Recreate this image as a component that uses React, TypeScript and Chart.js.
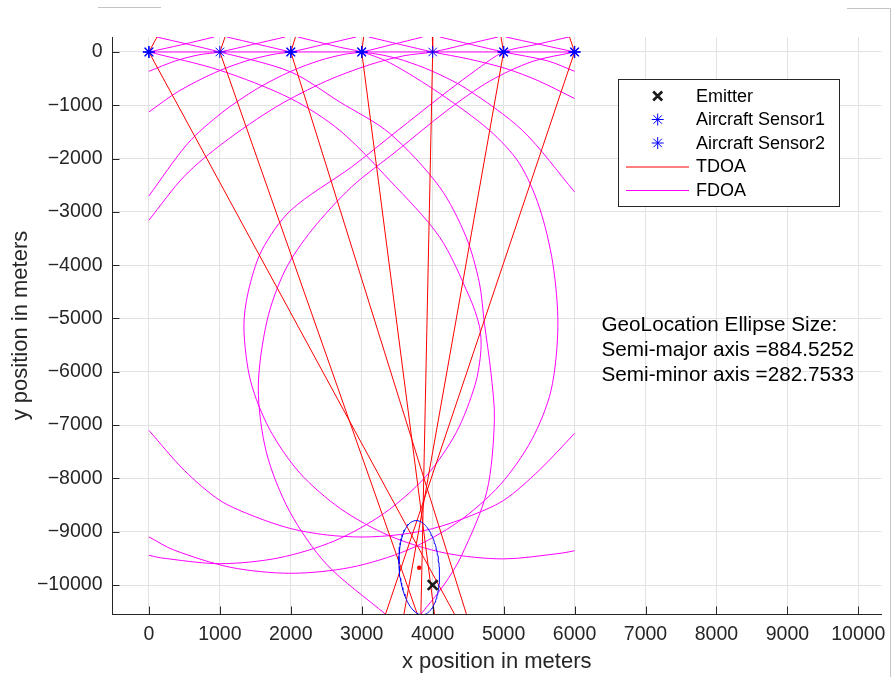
import React, { useEffect, useRef } from "react";
import { Chart, registerables } from "chart.js";

Chart.register(...registerables);

const FONT = '"Liberation Sans", Arial, Helvetica, sans-serif';
const INK = "#262626";
const RED = "#ff0000";
const MAGENTA = "#ff00ff";
const BLUE = "#0000ff";
const EMITTER_INK = "#1a1a1a";

// Axis ranges and tick values (meters)
const xRange = [-520, 10325];
const yRange = [-10544, 281];
const xTickValues = [0, 1000, 2000, 3000, 4000, 5000, 6000, 7000, 8000, 9000, 10000];
const yTickValues = [0, -1000, -2000, -3000, -4000, -5000, -6000, -7000, -8000, -9000, -10000];

// Platform and emitter positions
const sensor1X = [0, 1000, 2000, 3000, 4000, 5000, 6000];
const sensor2X = [0, 2000, 3000, 5000, 6000];
const sensorAltY = 0;
const emitterPos = [4000, -10000];
const estimatePos = [3810, -9675];

// Geolocation error ellipse
const semiMajor = 884.5252;
const semiMinor = 282.7533;
const ellipseTiltDeg = 3;

// TDOA curves: upper end, apex at each sensor, lower end (x in meters)
const tdoaTopX = [115, 1074, 2066, 3027, 3996, 4963, 5929];
const tdoaBottomX = [4307, 3783, 4475, 4025, 3834, 3595, 3336];

// FDOA iso-curves, [x, y] in meters
const fdoaRow = [[0, 0], [6000, 0]];
const fdoaRise0 = [[0, 0], [460, 135], [920, 281]];
const fdoaRise1 = [[0, -362], [379, -166], [700, -55], [1000, 0], [1460, 140], [1920, 281]];
const fdoaRise2 = [
  [0, -1125], [417, -738], [924, -391], [1367, -170], [1750, -45], [2000, 0], [2460, 140], [2920, 281],
];
const fdoaRise3 = [
  [0, -2700], [548, -1717], [1030, -1138], [1527, -687], [2000, -364], [2411, -158], [2750, -45],
  [3000, 0], [3430, 140], [3860, 281],
];
const fdoaRise4 = [
  [0, -3156], [500, -2330], [1051, -1703], [1796, -1028], [2502, -545], [3119, -236], [3595, -71],
  [4000, 0], [4460, 140], [4920, 281],
];
const fdoaLoop5 = [
  [5920, 281], [5460, 140], [5000, 0], [4600, -350], [4100, -850], [3500, -1480], [2858, -2156],
  [2000, -2970], [1592, -3720], [1400, -4500], [1339, -5176], [1434, -6176], [1700, -7075],
  [2127, -7898], [2703, -8570], [3395, -9080], [4177, -9401], [5000, -9510], [5823, -9401],
  [6000, -9357],
];
const fdoaLoop6 = [
  [6000, 0], [5400, -180], [4800, -550], [4200, -1100], [3500, -1850], [2858, -2531], [2295, -3344],
  [1920, -4094], [1667, -5032], [1542, -6303], [1658, -7521], [1982, -8616], [2503, -9609],
  [3331, -10544],
];
const fdoaFall0 = [
  [0, 0], [1000, -343], [2000, -874], [2689, -1470], [3393, -2406], [4096, -3469], [4518, -4594],
  [4660, -5150], [4680, -5600], [4600, -6235], [4331, -7143], [3899, -7970], [3318, -8652],
  [2620, -9170], [1831, -9491], [1000, -9600], [169, -9491], [0, -9442],
];
const fdoaFall1 = [
  [110, 281], [1000, 0], [2000, -375], [2689, -937], [3393, -1525], [4096, -2531], [4471, -3469],
  [4659, -4337], [4730, -5100], [4820, -6000], [4870, -6900], [4763, -8249], [4407, -9449],
  [4158, -10000], [3836, -10544],
];
const fdoaFall2 = [[1100, 281], [2000, 0]];
const fdoaBigArc = [
  [2100, 281], [2689, 90], [3000, 0], [3393, -200], [4096, -774], [4799, -1468], [5221, -2087],
  [5502, -2906], [5693, -3962], [5765, -5150], [5668, -6352], [5396, -7275], [4953, -8117],
  [4362, -8814], [3651, -9342], [2846, -9669], [2000, -9780], [1154, -9669], [349, -9342], [0, -9097],
];
const fdoaFall3 = [
  [3000, 0], [3300, -60], [3589, -158], [4000, -364], [4473, -687], [5264, -1470], [6000, -2625],
];
const fdoaFall4 = [[3100, 281], [4000, 0], [4500, -130], [5033, -311], [5497, -545], [6000, -873]];
const fdoaFall5 = [[4100, 281], [5000, 0], [5615, -165], [6000, -362]];
const fdoaFall6 = [[5030, 281], [6000, 0]];
const fdoaBowl = [
  [0, -7100], [500, -7850], [1000, -8412], [1500, -8720], [2000, -8942], [2500, -9060], [3000, -9100],
  [3500, -9060], [4000, -8942], [4500, -8720], [5000, -8412], [5500, -7850], [6000, -7156],
];

const fdoaCurves = [
  fdoaRow, fdoaRise0, fdoaRise1, fdoaRise2, fdoaRise3, fdoaRise4, fdoaLoop5, fdoaLoop6,
  fdoaFall0, fdoaFall1, fdoaFall2, fdoaBigArc, fdoaFall3, fdoaFall4, fdoaFall5, fdoaFall6, fdoaBowl,
];

const noteLines = [
  "GeoLocation Ellipse Size:",
  `Semi-major axis =${semiMajor}`,
  `Semi-minor axis =${semiMinor}`,
];
const notePos = [6380, -5125];

const legendItems = [
  { label: "Emitter", kind: "cross", color: EMITTER_INK },
  { label: "Aircraft Sensor1", kind: "star", color: BLUE },
  { label: "Aircraft Sensor2", kind: "star", color: BLUE },
  { label: "TDOA", kind: "line", color: RED },
  { label: "FDOA", kind: "line", color: MAGENTA },
];

const toXY = (pts: number[][]) => pts.map(([x, y]) => ({ x, y }));

const fmtTick = (v: number) => (v < 0 ? "\u2212" + Math.abs(v) : String(v));

function drawStar(ctx: CanvasRenderingContext2D, x: number, y: number, r: number) {
  const d = r * Math.SQRT1_2;
  ctx.beginPath();
  ctx.moveTo(x - r, y); ctx.lineTo(x + r, y);
  ctx.moveTo(x, y - r); ctx.lineTo(x, y + r);
  ctx.moveTo(x - d, y - d); ctx.lineTo(x + d, y + d);
  ctx.moveTo(x - d, y + d); ctx.lineTo(x + d, y - d);
  ctx.stroke();
}

const matlabFrame = {
  id: "matlabFrame",
  afterDatasetsDraw(chart: any) {
    const { ctx, chartArea, scales } = chart;
    const tick = 7.5;
    ctx.save();
    ctx.strokeStyle = INK;
    ctx.lineWidth = 1;
    ctx.beginPath();
    for (const v of xTickValues) {
      const px = Math.round(scales.x.getPixelForValue(v)) + 0.5;
      ctx.moveTo(px, chartArea.bottom);
      ctx.lineTo(px, chartArea.bottom - tick);
    }
    for (const v of yTickValues) {
      const py = Math.round(scales.y.getPixelForValue(v)) + 0.5;
      ctx.moveTo(chartArea.left, py);
      ctx.lineTo(chartArea.left + tick, py);
    }
    ctx.stroke();
    ctx.restore();
  },
  afterDraw(chart: any) {
    const { ctx, scales } = chart;
    ctx.save();

    // legend box
    const bx = 618.5, by = 79.5, bw = 221, bh = 127;
    ctx.fillStyle = "#ffffff";
    ctx.fillRect(bx, by, bw, bh);
    ctx.strokeStyle = INK;
    ctx.lineWidth = 1;
    ctx.strokeRect(bx, by, bw, bh);
    ctx.font = `18px ${FONT}`;
    ctx.textBaseline = "middle";
    ctx.textAlign = "left";
    legendItems.forEach((item, i) => {
      const cy = 96 + i * 23.5;
      const mx = 657.7;
      ctx.strokeStyle = item.color;
      if (item.kind === "cross") {
        ctx.lineWidth = 2.6;
        ctx.beginPath();
        ctx.moveTo(mx - 4.5, cy - 4.5); ctx.lineTo(mx + 4.5, cy + 4.5);
        ctx.moveTo(mx - 4.5, cy + 4.5); ctx.lineTo(mx + 4.5, cy - 4.5);
        ctx.stroke();
      } else if (item.kind === "star") {
        ctx.lineWidth = 1;
        drawStar(ctx, mx, cy, 6);
      } else {
        ctx.lineWidth = 1;
        ctx.beginPath();
        ctx.moveTo(626, cy + 0.5);
        ctx.lineTo(689, cy + 0.5);
        ctx.stroke();
      }
      ctx.fillStyle = "#000000";
      ctx.fillText(item.label, 696, cy + 1);
    });

    // ellipse size note
    ctx.font = `20.7px ${FONT}`;
    ctx.fillStyle = "#000000";
    const nx = scales.x.getPixelForValue(notePos[0]);
    const ny = scales.y.getPixelForValue(notePos[1]);
    noteLines.forEach((t, i) => ctx.fillText(t, nx, ny + i * 25));

    // figure window edges
    ctx.strokeStyle = "#c4c4c4";
    ctx.lineWidth = 1;
    ctx.beginPath();
    ctx.moveTo(98, 7.5); ctx.lineTo(161, 7.5);
    ctx.moveTo(847, 8.5); ctx.lineTo(890.5, 8.5); ctx.lineTo(890.5, 677);
    ctx.stroke();
    ctx.restore();
  },
};

export default function App() {
  const canvasRef = useRef<HTMLCanvasElement | null>(null);

  useEffect(() => {
    const canvas = canvasRef.current;
    if (!canvas) return;

    const tilt = (ellipseTiltDeg * Math.PI) / 180;
    const ellipsePts = Array.from({ length: 121 }, (_, i) => {
      const t = (i / 120) * 2 * Math.PI;
      const u = semiMinor * Math.cos(t);
      const v = semiMajor * Math.sin(t);
      return {
        x: estimatePos[0] + u * Math.cos(tilt) - v * Math.sin(tilt),
        y: estimatePos[1] + u * Math.sin(tilt) + v * Math.cos(tilt),
      };
    });

    const curve = (label: string, data: any[], color: string, tension = 0) => ({
      label,
      data,
      showLine: true,
      borderColor: color,
      backgroundColor: color,
      borderWidth: 1,
      pointRadius: 0,
      pointHoverRadius: 0,
      tension,
    });

    const datasets: any[] = [
      {
        label: "Emitter",
        data: [{ x: emitterPos[0], y: emitterPos[1] }],
        pointStyle: "crossRot",
        pointRadius: 7,
        borderWidth: 2.6,
        borderColor: EMITTER_INK,
        backgroundColor: EMITTER_INK,
      },
      {
        label: "Aircraft Sensor1",
        data: sensor1X.map((x) => ({ x, y: sensorAltY })),
        pointStyle: "star",
        pointRadius: 6,
        borderWidth: 1,
        borderColor: BLUE,
        backgroundColor: BLUE,
      },
      {
        label: "Aircraft Sensor2",
        data: sensor2X.map((x) => ({ x, y: sensorAltY })),
        pointStyle: "star",
        pointRadius: 6,
        borderWidth: 1.4,
        borderColor: BLUE,
        backgroundColor: BLUE,
      },
      {
        label: "Estimate",
        data: [{ x: estimatePos[0], y: estimatePos[1] }],
        pointStyle: "circle",
        pointRadius: 2.2,
        borderWidth: 0,
        backgroundColor: RED,
        borderColor: RED,
      },
      curve("Ellipse", ellipsePts, BLUE),
      ...sensor1X.map((sx, i) =>
        curve(
          "TDOA",
          [
            { x: tdoaTopX[i], y: yRange[1] },
            { x: sx, y: sensorAltY },
            { x: tdoaBottomX[i], y: yRange[0] },
          ],
          RED
        )
      ),
      ...fdoaCurves.map((c) => curve("FDOA", toXY(c), MAGENTA, 0.3)),
    ];

    const chart = new Chart(canvas, {
      type: "scatter",
      data: { datasets },
      options: {
        animation: false,
        responsive: false,
        devicePixelRatio: 1,
        events: [],
        layout: { padding: { top: 37, right: 8, bottom: 0, left: 0 } },
        plugins: { legend: { display: false }, tooltip: { enabled: false } },
        scales: {
          x: {
            type: "linear",
            position: "bottom",
            min: xRange[0],
            max: xRange[1],
            afterBuildTicks: (s: any) => {
              s.ticks = xTickValues.map((value) => ({ value }));
            },
            afterFit: (s: any) => {
              s.height = 63;
              s.paddingLeft = 0;
              s.paddingRight = 0;
            },
            ticks: {
              font: { family: FONT, size: 19.5 },
              color: INK,
              padding: 9,
              maxRotation: 0,
              autoSkip: false,
              callback: (v: any) => fmtTick(Number(v)),
            },
            grid: { color: "#e2e2e2", drawTicks: false },
            border: { color: INK, width: 1 },
            title: {
              display: true,
              text: "x position in meters",
              font: { family: FONT, size: 22 },
              color: INK,
              padding: { top: 0, bottom: 2 },
            },
          },
          y: {
            type: "linear",
            position: "left",
            min: yRange[0],
            max: yRange[1],
            afterBuildTicks: (s: any) => {
              s.ticks = yTickValues.map((value) => ({ value }));
            },
            afterFit: (s: any) => {
              s.width = 112;
              s.paddingTop = 0;
              s.paddingBottom = 0;
            },
            ticks: {
              font: { family: FONT, size: 19.5 },
              color: INK,
              padding: 9.5,
              autoSkip: false,
              callback: (v: any) => fmtTick(Number(v)),
            },
            grid: { color: "#e2e2e2", drawTicks: false },
            border: { color: INK, width: 1 },
            title: {
              display: true,
              text: "y position in meters",
              font: { family: FONT, size: 22 },
              color: INK,
              padding: { top: 8, bottom: 0 },
            },
          },
        },
      },
      plugins: [matlabFrame],
    });

    return () => chart.destroy();
  }, []);

  return (
    <div style={{ position: "fixed", left: 0, top: 0, width: 891, height: 677, background: "#ffffff" }}>
      <canvas ref={canvasRef} width={891} height={677} style={{ display: "block", width: 891, height: 677 }} />
    </div>
  );
}
